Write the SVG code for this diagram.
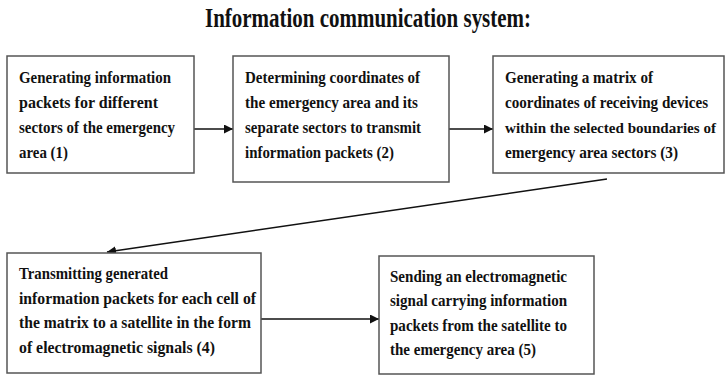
<svg xmlns="http://www.w3.org/2000/svg" width="726" height="375" viewBox="0 0 726 375">
<style>
.box{fill:#fff;stroke:#555;stroke-width:1.5}
.t{font-family:"Liberation Serif","Times New Roman",serif;font-weight:bold;font-size:16.5px;fill:#111}
.title{font-family:"Liberation Serif","Times New Roman",serif;font-weight:bold;font-size:27px;fill:#111}
.c{stroke:#111;stroke-width:1.5;fill:none;marker-end:url(#ah)}
</style>
<defs>
<marker id="ah" viewBox="0 0 10 10" refX="10" refY="5" markerWidth="9" markerHeight="9" markerUnits="userSpaceOnUse" orient="auto">
<path d="M0,0 L10,5 L0,10 z" fill="#111"/>
</marker>
</defs>
<rect width="726" height="375" fill="#fff"/>
<text class="title" x="205" y="27" textLength="326" lengthAdjust="spacingAndGlyphs">Information communication system:</text>
<g id="connectors">
<line class="c" x1="194" y1="129" x2="233" y2="129"/>
<line class="c" x1="449" y1="129" x2="493" y2="129"/>
<line class="c" x1="607" y1="179" x2="107" y2="252"/>
<line class="c" x1="261" y1="319" x2="379" y2="319"/>
</g>
<g id="n1">
<rect class="box" x="7" y="56" width="187" height="117"/>
<text class="t" x="19" y="83" textLength="152" lengthAdjust="spacingAndGlyphs">Generating information</text>
<text class="t" x="19" y="108" textLength="139" lengthAdjust="spacingAndGlyphs">packets for different</text>
<text class="t" x="19" y="133" textLength="156" lengthAdjust="spacingAndGlyphs">sectors of the emergency</text>
<text class="t" x="19" y="158" textLength="49" lengthAdjust="spacingAndGlyphs">area (1)</text>
</g>
<g id="n2">
<rect class="box" x="233" y="56" width="216" height="126"/>
<text class="t" x="245" y="83" textLength="175" lengthAdjust="spacingAndGlyphs">Determining coordinates of</text>
<text class="t" x="245" y="108" textLength="173" lengthAdjust="spacingAndGlyphs">the emergency area and its</text>
<text class="t" x="245" y="133" textLength="176" lengthAdjust="spacingAndGlyphs">separate sectors to transmit</text>
<text class="t" x="245" y="158" textLength="149" lengthAdjust="spacingAndGlyphs">information packets (2)</text>
</g>
<g id="n3">
<rect class="box" x="493" y="56" width="231" height="117"/>
<text class="t" x="505" y="83" textLength="148" lengthAdjust="spacingAndGlyphs">Generating a matrix of</text>
<text class="t" x="505" y="108" textLength="203" lengthAdjust="spacingAndGlyphs">coordinates of receiving devices</text>
<text class="t" x="505" y="133" style="font-size:15.5px" textLength="211" lengthAdjust="spacingAndGlyphs">within the selected boundaries of</text>
<text class="t" x="505" y="158" textLength="173" lengthAdjust="spacingAndGlyphs">emergency area sectors (3)</text>
</g>
<g id="n4">
<rect class="box" x="7" y="253" width="254" height="120"/>
<text class="t" x="19" y="279" textLength="149" lengthAdjust="spacingAndGlyphs">Transmitting generated</text>
<text class="t" x="19" y="304" textLength="237" lengthAdjust="spacingAndGlyphs">information packets for each cell of</text>
<text class="t" x="19" y="328" textLength="232" lengthAdjust="spacingAndGlyphs">the matrix to a satellite in the form</text>
<text class="t" x="19" y="353" textLength="196" lengthAdjust="spacingAndGlyphs">of electromagnetic signals (4)</text>
</g>
<g id="n5">
<rect class="box" x="379" y="256" width="215" height="118"/>
<text class="t" x="390" y="282" textLength="177" lengthAdjust="spacingAndGlyphs">Sending an electromagnetic</text>
<text class="t" x="390" y="306" textLength="177" lengthAdjust="spacingAndGlyphs">signal carrying information</text>
<text class="t" x="390" y="331" textLength="177" lengthAdjust="spacingAndGlyphs">packets from the satellite to</text>
<text class="t" x="390" y="355" textLength="146" lengthAdjust="spacingAndGlyphs">the emergency area (5)</text>
</g>
</svg>
